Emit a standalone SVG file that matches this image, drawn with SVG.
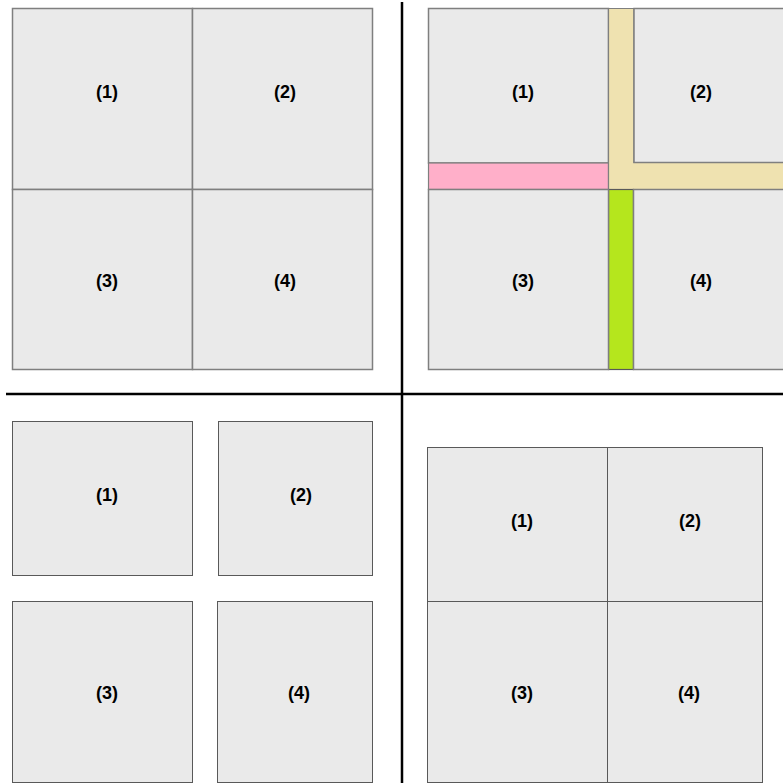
<svg xmlns="http://www.w3.org/2000/svg" width="783" height="783" viewBox="0 0 783 783">
<style>
.b{fill:#eaeaea;stroke:#7f7f7f;stroke-width:1.5}
.d{fill:#eaeaea;stroke:#595959;stroke-width:1}
.t{font-family:"Liberation Sans",Arial,sans-serif;font-weight:bold;font-size:18px;fill:#000;text-anchor:middle}
.sep{stroke:#000;stroke-width:2.5;fill:none}
</style>
<rect width="783" height="783" fill="#fff"/>
<g id="connectors">
<line class="sep" x1="402" y1="2" x2="402" y2="783"/>
<line class="sep" x1="6" y1="394" x2="783" y2="394"/>
</g>
<g id="q1">
<g id="q1-1"><rect class="b" x="12.5" y="8.5" width="180" height="181"/><text class="t" x="107" y="98">(1)</text></g>
<g id="q1-2"><rect class="b" x="192.5" y="8.5" width="180" height="181"/><text class="t" x="285" y="98">(2)</text></g>
<g id="q1-3"><rect class="b" x="12.5" y="189.5" width="180" height="180"/><text class="t" x="107" y="287">(3)</text></g>
<g id="q1-4"><rect class="b" x="192.5" y="189.5" width="180" height="180"/><text class="t" x="285" y="287">(4)</text></g>
</g>
<g id="q2">
<g id="q2-1"><rect class="b" x="428.5" y="8.5" width="180" height="154.5"/><text class="t" x="523" y="98">(1)</text></g>
<g id="q2-pink"><rect x="428.5" y="163" width="180" height="26.5" fill="#ffafc9" stroke="#7f7f7f" stroke-width="1.2"/></g>
<g id="q2-beige"><path d="M608.5 8.5H634V162.5H784V189.5H608.5Z" fill="#efe2b0" stroke="#7f7f7f" stroke-width="1.2"/></g>
<g id="q2-2"><path d="M784 8.5H634V162.5H784" class="b"/><text class="t" x="701" y="98">(2)</text></g>
<g id="q2-green"><rect x="608.5" y="189.5" width="25" height="180" fill="#b5e61d" stroke="#595959" stroke-width="1.2"/></g>
<g id="q2-3"><rect class="b" x="428.5" y="189.5" width="180" height="180"/><text class="t" x="523" y="287">(3)</text></g>
<g id="q2-4"><path d="M784 189.5H633.5V369.5H784" class="b"/><text class="t" x="701" y="287">(4)</text></g>
</g>
<g id="q3">
<g id="q3-1"><rect class="d" x="12.5" y="421.5" width="180" height="154"/><text class="t" x="107" y="501">(1)</text></g>
<g id="q3-2"><rect class="d" x="218.5" y="421.5" width="154" height="154"/><text class="t" x="301" y="501">(2)</text></g>
<g id="q3-3"><rect class="d" x="12.5" y="601.5" width="180" height="181"/><text class="t" x="107" y="699">(3)</text></g>
<g id="q3-4"><rect class="d" x="217.5" y="601.5" width="155" height="181"/><text class="t" x="299" y="699">(4)</text></g>
</g>
<g id="q4">
<g id="q4-1"><rect class="d" x="427.5" y="447.5" width="180" height="154"/><text class="t" x="522" y="527">(1)</text></g>
<g id="q4-2"><rect class="d" x="607.5" y="447.5" width="155" height="154"/><text class="t" x="690" y="527">(2)</text></g>
<g id="q4-3"><rect class="d" x="427.5" y="601.5" width="180" height="181"/><text class="t" x="522" y="699">(3)</text></g>
<g id="q4-4"><rect class="d" x="607.5" y="601.5" width="155" height="181"/><text class="t" x="689" y="699">(4)</text></g>
</g>
</svg>
